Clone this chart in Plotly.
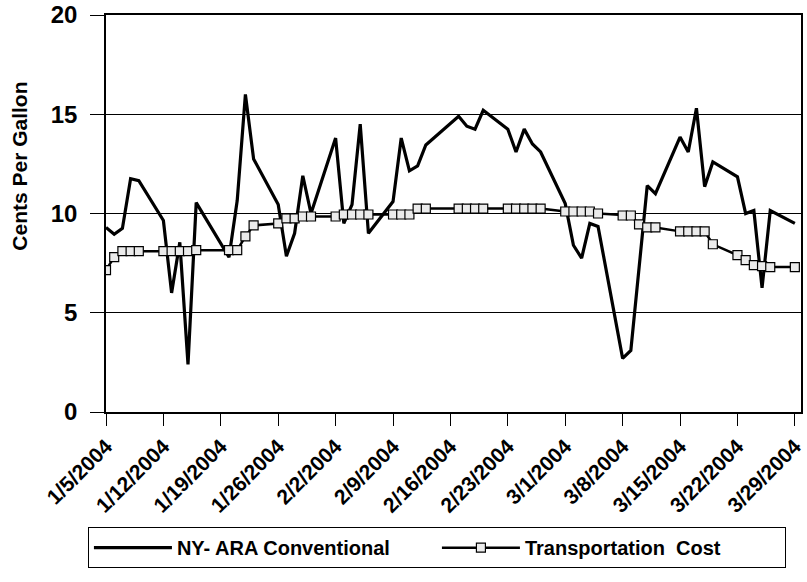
import plotly.graph_objects as go

# weekday dates (MLK day 1/19 and Presidents' day 2/16 have no data)
dates = [
    "2004-01-05", "2004-01-06", "2004-01-07", "2004-01-08", "2004-01-09",
    "2004-01-12", "2004-01-13", "2004-01-14", "2004-01-15", "2004-01-16",
    "2004-01-20", "2004-01-21", "2004-01-22", "2004-01-23",
    "2004-01-26", "2004-01-27", "2004-01-28", "2004-01-29", "2004-01-30",
    "2004-02-02", "2004-02-03", "2004-02-04", "2004-02-05", "2004-02-06",
    "2004-02-09", "2004-02-10", "2004-02-11", "2004-02-12", "2004-02-13",
    "2004-02-17", "2004-02-18", "2004-02-19", "2004-02-20",
    "2004-02-23", "2004-02-24", "2004-02-25", "2004-02-26", "2004-02-27",
    "2004-03-01", "2004-03-02", "2004-03-03", "2004-03-04", "2004-03-05",
    "2004-03-08", "2004-03-09", "2004-03-10", "2004-03-11", "2004-03-12",
    "2004-03-15", "2004-03-16", "2004-03-17", "2004-03-18", "2004-03-19",
    "2004-03-22", "2004-03-23", "2004-03-24", "2004-03-25", "2004-03-26",
    "2004-03-29",
]

ny_ara = [
    9.3, 8.95, 9.25, 11.75, 11.65,
    9.65, 6.0, 8.55, 2.4, 10.55,
    7.8, 10.65, 16.0, 12.75,
    10.45, 7.85, 9.0, 11.9, 10.0,
    13.8, 9.5, 10.45, 14.5, 9.0,
    10.6, 13.8, 12.15, 12.4, 13.45,
    14.9, 14.4, 14.25, 15.2,
    14.25, 13.1, 14.25, 13.5, 13.1,
    10.5, 8.4, 7.75, 9.5, 9.35,
    2.7, 3.1, 7.2, 11.4, 11.0,
    13.85, 13.1, 15.3, 11.35, 12.6,
    11.85, 10.0, 10.15, 6.25, 10.15,
    9.5,
]

transport = [
    7.15, 7.8, 8.1, 8.1, 8.1,
    8.1, 8.1, 8.1, 8.1, 8.15,
    8.15, 8.15, 8.85, 9.4,
    9.5, 9.75, 9.75, 9.85, 9.85,
    9.85, 9.95, 9.95, 9.95, 9.95,
    9.95, 9.95, 9.95, 10.25, 10.25,
    10.25, 10.25, 10.25, 10.25,
    10.25, 10.25, 10.25, 10.25, 10.25,
    10.1, 10.1, 10.1, 10.1, 10.0,
    9.9, 9.9, 9.45, 9.3, 9.3,
    9.1, 9.1, 9.1, 9.1, 8.45,
    7.9, 7.65, 7.4, 7.35, 7.3,
    7.3,
]

FONT = "Liberation Sans, Arial, sans-serif"

fig = go.Figure()
fig.add_trace(go.Scatter(
    x=dates, y=ny_ara, mode="lines", name="NY- ARA Conventional",
    line=dict(color="black", width=3.2),
))
fig.add_trace(go.Scatter(
    x=dates, y=transport, mode="lines+markers", name="Transportation  Cost",
    line=dict(color="black", width=2.5),
    marker=dict(symbol="square", size=9, color="#ebebeb",
                line=dict(color="black", width=1.2)),
))

fig.update_layout(
    width=807,
    height=582,
    paper_bgcolor="white",
    plot_bgcolor="white",
    margin=dict(l=106, r=6, t=15, b=170, autoexpand=False),
    font=dict(family=FONT, color="black", size=18, weight="bold"),
    showlegend=True,
    legend=dict(
        orientation="h",
        x=-0.026, xanchor="left",
        y=-0.29, yanchor="top",
        bordercolor="black", borderwidth=1,
        font=dict(family=FONT, size=20, weight="bold"),
        entrywidth=255,
        itemwidth=78,
    ),
    annotations=[dict(
        text="Cents Per Gallon", textangle=-90,
        xref="paper", yref="paper", x=-0.124, y=0.62,
        xanchor="center", yanchor="middle", showarrow=False,
        font=dict(family=FONT, size=21, weight="bold"),
    )],
)

fig.update_xaxes(
    type="date",
    range=["2004-01-05", "2004-03-29 18:00"],
    tick0="2004-01-05",
    dtick=7 * 86400000,
    tickformat="%-m/%-d/%Y",
    tickangle=-45,
    tickfont=dict(family=FONT, size=21, weight="bold"),
    ticks="outside", ticklen=12, tickcolor="black", tickwidth=1,
    ticklabeloverflow="allow",
    showgrid=False,
    showline=True, linecolor="black", linewidth=1.5, mirror=True,
    zeroline=False,
    automargin=False,
)
fig.update_yaxes(
    range=[0, 20],
    dtick=5,
    tickfont=dict(family=FONT, size=24, weight="bold"),
    ticks="outside", ticklen=14, tickcolor="black", tickwidth=1,
    ticklabelstandoff=8,
    ticklabeloverflow="allow",
    showgrid=True, gridcolor="black", gridwidth=1,
    showline=True, linecolor="black", linewidth=1.5, mirror=True,
    zeroline=False,
    automargin=False,
)

# drop the default 8px page margin so the figure fills the window exactly
fig.write_html(
    "out.html",
    config={"displayModeBar": False},
    post_script="document.body.style.margin = '0';",
)
